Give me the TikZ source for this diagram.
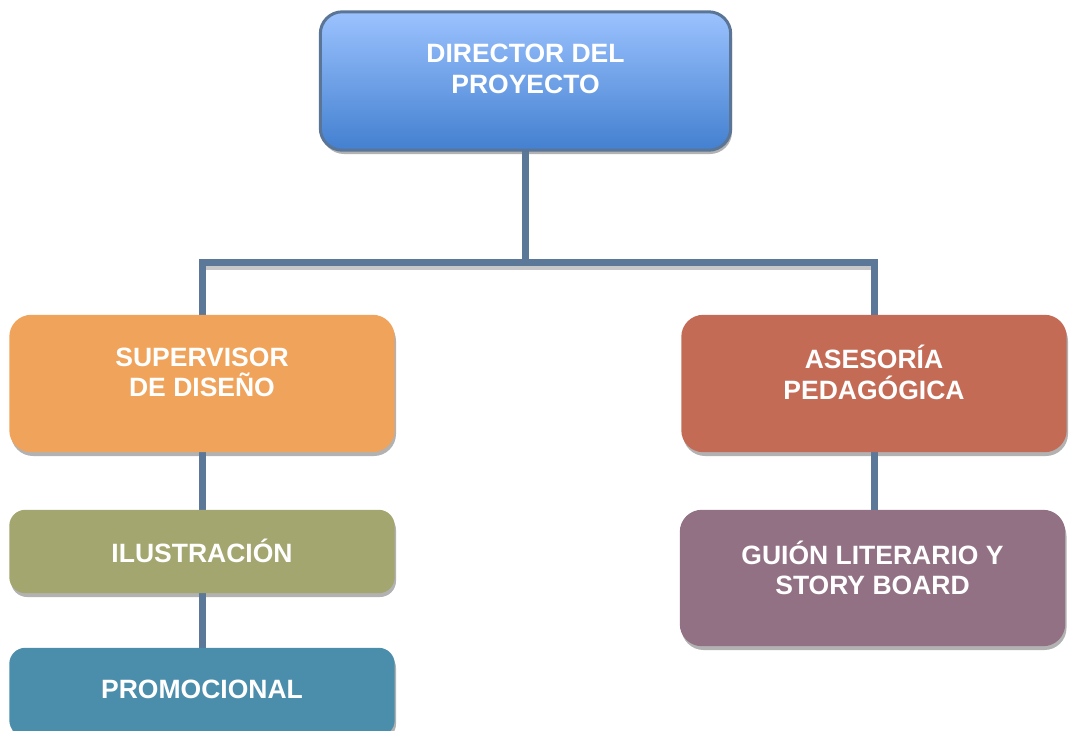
\documentclass[tikz,border=0pt]{standalone}
\usepackage{fontspec}
\setmainfont{Liberation Sans}
\usetikzlibrary{shadows}
\definecolor{conn}{HTML}{5B7899}
\definecolor{dirborder}{HTML}{5A7595}
\definecolor{dirtop}{HTML}{9BC2FE}
\definecolor{dirbot}{HTML}{4380D0}
\definecolor{supc}{HTML}{F0A35A}
\definecolor{asec}{HTML}{C46B56}
\definecolor{iluc}{HTML}{A3A66F}
\definecolor{proc}{HTML}{4B8EAC}
\definecolor{guic}{HTML}{927185}
\tikzset{
  box/.style={rectangle, rounded corners=22pt, minimum width=385pt, draw=none,
    general shadow={fill=black!30, shadow xshift=1.5pt, shadow yshift=-4pt}},
  smallbox/.style={box, rounded corners=16pt},
  lbl/.style={text=white, font=\bfseries\fontsize{26.5}{30.5}\selectfont, align=center, inner sep=0pt},
  link/.style={draw=conn, line width=7pt}
}
\begin{document}
\begin{tikzpicture}[x=1pt,y=-1pt]
\useasboundingbox (0,0) rectangle (1069,731);
\coordinate (busM) at (525.5,262);
% shadow of the bus
\draw[black!22, line width=4pt] (205,268) -- (871,268);
\node[box, minimum width=410pt, minimum height=138pt] (dir) at (525.5,81) {};
\node[box, minimum height=137pt] (sup) at (202,383.5) {};
\node[box, minimum height=137pt] (ase) at (874,383.5) {};
\node[smallbox, minimum height=83pt] (ilu) at (202,551.5) {};
\node[smallbox, minimum height=88pt] (pro) at (202,692) {};
\node[box, minimum height=136pt] (gui) at (872.5,578) {};
% connectors (behind box fills)
\draw[link] (dir.south) -- (busM);
\draw[link, line join=miter] (sup.north) |- (busM) -| (ase.north);
\draw[link] (sup.south) -- (ilu.north);
\draw[link] (ilu.south) -- (pro.north);
\draw[link] (ase.south) -- (ase.south |- gui.north);
% box fills
\path[draw=dirborder, line width=3pt, rounded corners=22pt, top color=dirtop, bottom color=dirbot]
  (dir.north west) rectangle (dir.south east);
\fill[supc, rounded corners=22pt] (sup.north west) rectangle (sup.south east);
\fill[asec, rounded corners=22pt] (ase.north west) rectangle (ase.south east);
\fill[iluc, rounded corners=16pt] (ilu.north west) rectangle (ilu.south east);
\fill[proc, rounded corners=16pt] (pro.north west) rectangle (pro.south east);
\fill[guic, rounded corners=22pt] (gui.north west) rectangle (gui.south east);
% labels
\node[lbl] (dirT) at ([yshift=12pt]dir.center) {DIRECTOR DEL\\PROYECTO};
\node[lbl] (supT) at ([yshift=11pt]sup.center) {SUPERVISOR\\DE DISEÑO};
\node[lbl] (aseT) at ([yshift=11pt]ase.center) {ASESORÍA\\PEDAGÓGICA};
\node[lbl] (iluT) at ([yshift=1pt]ilu.center) {ILUSTRACIÓN};
\node[lbl] (proT) at ([yshift=3pt]pro.center) {PROMOCIONAL};
\node[lbl] (guiT) at ([yshift=10pt]gui.center) {GUIÓN LITERARIO Y\\STORY BOARD};
\end{tikzpicture}
\end{document}
